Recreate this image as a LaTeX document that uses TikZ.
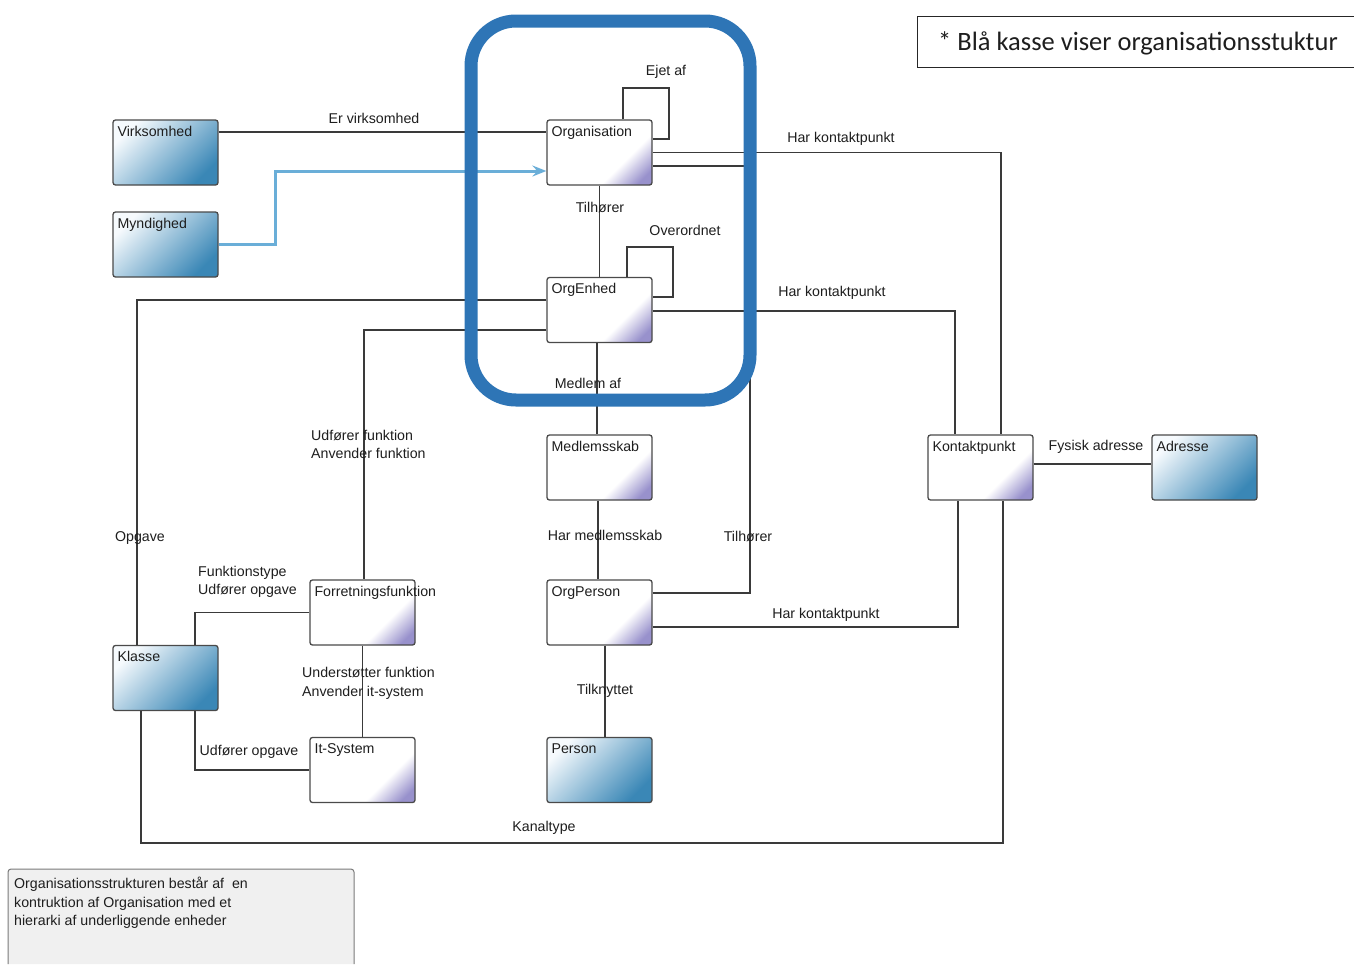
\documentclass[tikz,border=0pt]{standalone}
\usepackage{fontspec}
\setmainfont{Liberation Sans}
\newfontfamily\calfont{Carlito}
\usetikzlibrary{arrows.meta,calc}
\definecolor{bandblue}{HTML}{2E75B6}
\definecolor{arrblue}{HTML}{6AAED8}
\definecolor{boxblue}{HTML}{3A87B6}
\definecolor{boxmid}{HTML}{A9CDE2}
\definecolor{boxlight}{HTML}{F6FAFD}
\definecolor{lav}{HTML}{9891CC}
\definecolor{linec}{HTML}{3A3A3A}
\definecolor{borderc}{HTML}{4A4A4A}
\definecolor{notefill}{HTML}{F0F0F0}
\definecolor{notedraw}{HTML}{7A7A7A}
\definecolor{txt}{HTML}{1E1E1E}
\pgfdeclareverticalshading{lavshade}{100bp}{color(0bp)=(lav); color(21bp)=(lav); color(36bp)=(white); color(100bp)=(white)}
\newcommand\lf{\fontsize{14.2}{18.5}\selectfont}
\newcommand\umlbox[5]{%
  \node[#4] (#1) at (#2,#3) {};
  \node[boxtext] (#1-t) at ([xshift=5pt,yshift=-17pt]#1.north west) {#5};}
\begin{document}
\begin{tikzpicture}[x=1pt,y=-1pt,
  basebox/.style={draw=borderc, line width=1.3pt, rounded corners=2.5pt,
    minimum width=105pt, minimum height=65pt, inner sep=0pt},
  bluebox/.style={basebox, top color=boxlight, middle color=boxmid, bottom color=boxblue, shading angle=45},
  whitebox/.style={basebox, shading=lavshade, shading angle=45},
  boxtext/.style={anchor=base west, inner sep=0pt, font=\lf, text=txt},
  lbl/.style={inner sep=0pt, font=\lf, text=txt},
  mlbl/.style={inner sep=0pt, font=\lf, text=txt, align=left, anchor=north west},
  conn/.style={draw=linec, line width=1.2pt},
]
\useasboundingbox (0,0) rectangle (1354,964);
\fill[white] (0,0) rectangle (1354,964);

% boxes
\umlbox{virk}{165.5}{152.5}{bluebox}{Virksomhed}
\umlbox{mynd}{165.5}{244.5}{bluebox}{Myndighed}
\umlbox{org}{599.5}{152.5}{whitebox}{Organisation}
\umlbox{enh}{599.5}{310}{whitebox}{OrgEnhed}
\umlbox{med}{599.5}{467.5}{whitebox}{Medlemsskab}
\umlbox{oper}{599.5}{612.5}{whitebox}{OrgPerson}
\umlbox{pers}{599.5}{770}{bluebox}{Person}
\umlbox{forr}{362.5}{612.5}{whitebox}{Forretningsfunktion}
\umlbox{its}{362.5}{770}{whitebox}{It-System}
\umlbox{kls}{165.5}{678}{bluebox}{Klasse}
\umlbox{kont}{980.5}{467.5}{whitebox}{Kontaktpunkt}
\umlbox{adr}{1204.5}{467.5}{bluebox}{Adresse}

% connectors
\draw[conn] ([yshift=20.5pt]virk.east) -- ([yshift=20.5pt]org.west);
\draw[conn] ([xshift=23.5pt]org.north) |- (669,88) |- ([yshift=13.5pt]org.east);
\draw[conn] (org.east) -| ([xshift=20.5pt]kont.north);
\draw[conn] ([yshift=19.5pt]oper.east) -| (750,166) -- ([yshift=-13.5pt]org.east);
\draw[conn] (org.south) -- (enh.north);
\draw[conn] ([xshift=27.5pt]enh.north) |- (673,247) |- ([yshift=13pt]enh.east);
\draw[conn] ([yshift=-1pt]enh.east) -| ([xshift=-25.5pt]kont.north);
\draw[conn] ([yshift=10pt]enh.west) -| ([xshift=-28.5pt]kls.north);
\draw[conn] ([yshift=-20pt]enh.west) -| ([xshift=1.5pt]forr.north);
\draw[conn] ([xshift=-2.5pt]enh.south) -- ([xshift=-2.5pt]med.north);
\draw[conn] ([xshift=-1.5pt]med.south) -- ([xshift=-1.5pt]oper.north);
\draw[conn] ([xshift=5.5pt]oper.south) -- ([xshift=5.5pt]pers.north);
\draw[conn] ([xshift=29.5pt]kls.north) |- (forr.west);
\draw[conn] (forr.south) -- (its.north);
\draw[conn] ([xshift=29.5pt]kls.south) |- (its.west);
\coordinate (kb) at (1003,843);
\draw[conn] ([xshift=-24.5pt]kls.south) |- (kb) -- ([xshift=22.5pt]kont.south);
\draw[conn] ([yshift=-14.5pt]oper.east) -| ([xshift=-22.5pt]kont.south);
\draw[conn] ([yshift=3.5pt]kont.east) -- ([yshift=3.5pt]adr.west);
\draw[draw=arrblue, line width=3pt, -{Stealth[length=14pt,width=11pt,inset=5pt]}]
  (mynd.east) -- ++(57,0) |- ([yshift=-18.5pt]org.west);

% blue organisation frame
\draw[draw=bandblue, line width=13pt, rounded corners=45pt] (471,21) rectangle (750,400);

% connector labels
\node[lbl] (l1) at (374,118) {Er virksomhed};
\node[lbl] (l2) at (666,72) {Ejet af};
\node[lbl] (l3) at (841,139) {Har kontaktpunkt};
\node[lbl] (l4) at (600,207) {Tilhører};
\node[lbl] (l5) at (685,230) {Overordnet};
\node[lbl] (l6) at (832,293) {Har kontaktpunkt};
\node[lbl] (l7) at (588,383) {Medlem af};
\node[mlbl] (l8) at (311,430) {Udfører funktion\\Anvender funktion};
\node[lbl] (l9) at (140,538) {Opgave};
\node[lbl] (l10) at (605,535) {Har medlemsskab};
\node[lbl] (l11) at (748,536) {Tilhører};
\node[lbl] (l12) at (1096,447) {Fysisk adresse};
\node[mlbl] (l13) at (198,566) {Funktionstype\\Udfører opgave};
\node[lbl] (l14) at (826,615) {Har kontaktpunkt};
\node[mlbl] (l15) at (302,667) {Understøtter funktion\\Anvender it-system};
\node[lbl] (l16) at (605,691) {Tilknyttet};
\node[lbl] (l17) at (249,752) {Udfører opgave};
\node[lbl] (l18) at (544,828) {Kanaltype};

% legend
\draw[line width=1pt, draw=black!85] (1354,16) -- (917,16) -- (917,67) -- (1354,67);
\node[anchor=west, inner sep=0pt, font=\calfont\fontsize{26.5}{30}\selectfont, text=txt] (legend) at (938,43) {* Blå kasse viser organisationsstuktur};

% note
\draw[rounded corners=3pt, fill=notefill, draw=notedraw, line width=1pt] (8,964) -- (8,869) -- (354,869) -- (354,964);
\node[mlbl] (note) at (14,877) {Organisationsstrukturen består af\ \ en\\kontruktion af Organisation med et\\hierarki af underliggende enheder};
\end{tikzpicture}
\end{document}
